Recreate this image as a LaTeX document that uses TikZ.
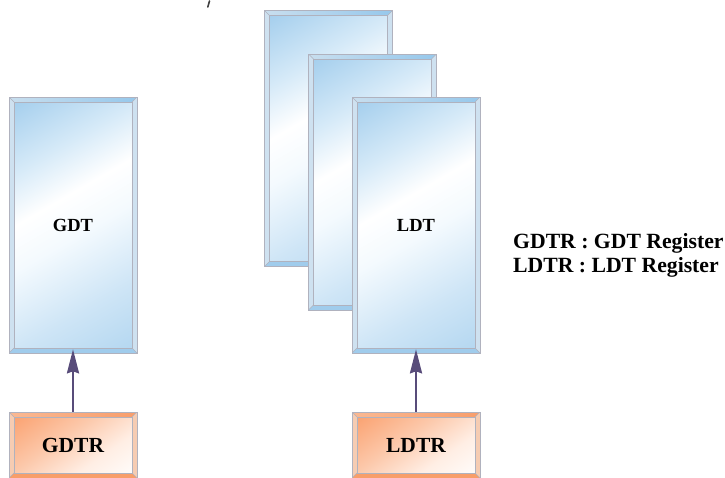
\documentclass[tikz,border=0pt]{standalone}
\usepackage{fontspec}
\setmainfont{Liberation Serif}
\usetikzlibrary{arrows.meta}

\definecolor{edgegray}{RGB}{176,178,190}
\definecolor{gbTop}{RGB}{160,204,236}
\definecolor{gbUp}{RGB}{214,234,248}
\definecolor{gbMid}{RGB}{244,250,254}
\definecolor{gbLow}{RGB}{206,229,246}
\definecolor{gbBot}{RGB}{178,214,240}
\definecolor{bvtop}{RGB}{200,222,238}
\definecolor{bvtopR}{RGB}{150,200,236}
\definecolor{bvside}{RGB}{206,225,240}
\definecolor{bvbot}{RGB}{160,204,236}
\definecolor{orA}{RGB}{250,156,104}
\definecolor{orB}{RGB}{252,200,170}
\definecolor{orC}{RGB}{255,238,228}
\definecolor{obtop}{RGB}{250,184,146}
\definecolor{obtopR}{RGB}{248,158,108}
\definecolor{obside}{RGB}{246,204,178}
\definecolor{obbot}{RGB}{248,158,106}
\definecolor{arrowcol}{RGB}{88,76,122}

% glass fills, bottom (0bp) to top (100bp); the path spans 25bp to 75bp
\pgfdeclareverticalshading{glassblue}{100bp}{color(0bp)=(gbBot); color(25bp)=(gbBot); color(36bp)=(gbLow); color(48bp)=(gbMid); color(55bp)=(white); color(63bp)=(gbUp); color(75bp)=(gbTop); color(100bp)=(gbTop)}
\pgfdeclareverticalshading{glassorange}{100bp}{color(0bp)=(white); color(25bp)=(white); color(40bp)=(orC); color(55bp)=(orB); color(75bp)=(orA); color(100bp)=(orA)}

% diagonal glass fill: shading name, angle, half side of the shaded square
\newcommand\glassfill[3]{%
  \shade[shading=#1, shading angle=#2]
    ([xshift=-#3pt,yshift=-#3pt]path picture bounding box.center)
    rectangle ([xshift=#3pt,yshift=#3pt]path picture bounding box.center);
}

% bevelled frame drawn inside a panel: top-left, top-right, side and bottom colours
\newcommand\bevelframe[4]{%
  \coordinate (bvnw) at (path picture bounding box.north west);
  \coordinate (bvne) at (path picture bounding box.north east);
  \coordinate (bvsw) at (path picture bounding box.south west);
  \coordinate (bvse) at (path picture bounding box.south east);
  \coordinate (bvinw) at ([xshift=5pt,yshift=-5pt]bvnw);
  \coordinate (bvine) at ([xshift=-5pt,yshift=-5pt]bvne);
  \coordinate (bvisw) at ([xshift=5pt,yshift=5pt]bvsw);
  \coordinate (bvise) at ([xshift=-5pt,yshift=5pt]bvse);
  \shade[left color=#1, middle color=white, right color=#2] (bvnw) -- (bvne) -- (bvine) -- (bvinw) -- cycle;
  \fill[#3] (bvnw) -- (bvinw) -- (bvisw) -- (bvsw) -- cycle;
  \fill[#3] (bvne) -- (bvine) -- (bvise) -- (bvse) -- cycle;
  \fill[#4] (bvsw) -- (bvisw) -- (bvise) -- (bvse) -- cycle;
  \draw[edgegray, line width=0.5pt] (bvinw) rectangle (bvise);
  \draw[edgegray, line width=0.4pt] (bvnw) -- (bvinw) (bvne) -- (bvine) (bvsw) -- (bvisw) (bvse) -- (bvise);
}

\tikzset{
  panelbase/.style={rectangle, inner sep=0pt, draw=edgegray, line width=0.6pt},
  tablepanel/.style={panelbase, minimum width=128pt, minimum height=256pt,
    font=\bfseries\fontsize{18.5}{22}\selectfont,
    path picture={\glassfill{glassblue}{30}{143}\bevelframe{bvtop}{bvtopR}{bvside}{bvbot}}},
  regpanel/.style={panelbase, minimum width=128pt, minimum height=66pt,
    font=\bfseries\fontsize{21.5}{24}\selectfont,
    path picture={\glassfill{glassorange}{35}{64}\bevelframe{obtop}{obtopR}{obside}{obbot}}},
  loadarrow/.style={draw=arrowcol, line width=2.4pt, shorten >=-4pt,
    -{Stealth[length=24pt,width=12pt,inset=2pt]}},
  legend/.style={font=\bfseries\fontsize{21.7}{24}\selectfont, anchor=base west, inner sep=0pt}
}

\begin{document}
\begin{tikzpicture}[x=1pt,y=-1pt]
\useasboundingbox (0,0) rectangle (725,477);

% global descriptor table and its register
\node[tablepanel] (gdt) at (73,225) {GDT};
\node[regpanel] (gdtr) at (73,445) {GDTR};

% stack of local descriptor tables, back to front
\node[tablepanel] (ldtc) at (328.5,138.5) {};
\node[tablepanel] (ldtb) at (372.5,182) {};
\node[tablepanel] (ldt) at (416,225) {LDT};
\node[regpanel] (ldtr) at (416,445) {LDTR};

\draw[loadarrow] (gdtr.north) -- (gdt.south);
\draw[loadarrow] (ldtr.north) -- (ldt.south);

% legend
\node[legend] (leg1) at (513,248) {GDTR : GDT Register};
\node[legend] (leg2) at (513,272) {LDTR : LDT Register};

% stray mark at the top edge
\draw[line width=1.6pt, black!75, line cap=round] (209.5,1) -- (207.8,7);
\end{tikzpicture}
\end{document}
